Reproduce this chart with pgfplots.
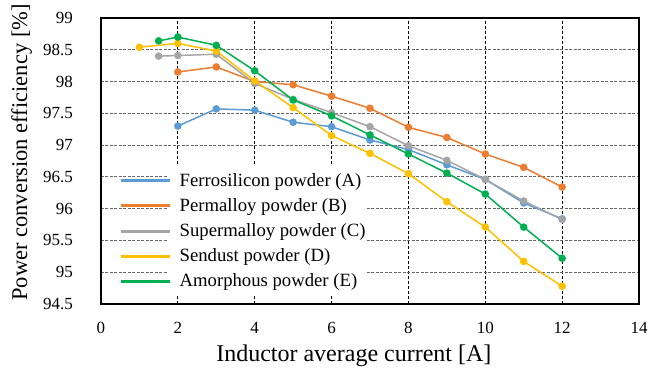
\documentclass[border=0pt]{standalone}
\usepackage{fontspec}
\setmainfont{Liberation Serif}
\usepackage{pgfplots}
\pgfplotsset{compat=1.18}
\definecolor{cA}{HTML}{5B9BD5}
\definecolor{cB}{HTML}{ED7D31}
\definecolor{cC}{HTML}{A5A5A5}
\definecolor{cD}{HTML}{FFC000}
\definecolor{cE}{HTML}{00B050}
\begin{document}
\begin{tikzpicture}
\useasboundingbox (-101bp,-75bp) rectangle (548bp,304bp);
\begin{axis}[
  at={(0,0)}, anchor=south west,
  scale only axis, width=538bp, height=286bp,
  xmin=0, xmax=14, ymin=94.5, ymax=99,
  xtick={0,2,4,6,8,10,12,14},
  ytick={94.5,95,95.5,96,96.5,97,97.5,98,98.5,99},
  major tick length=0pt,
  axis line style={line width=1.5bp, black},
  grid=major,
  x grid style={black, dash pattern=on 3bp off 2bp, line width=1bp},
  y grid style={black!60, dash pattern=on 3bp off 1.5bp, line width=1bp},
  /pgf/number format/assume math mode=true,
  ticklabel style={font=\fontsize{17bp}{20bp}\selectfont},
  yticklabel style={anchor=east, inner sep=0pt, xshift=-28bp},
  xticklabel style={anchor=north, inner sep=0pt, yshift=-18bp},
  xlabel={Inductor average current [A]},
  ylabel={Power conversion efficiency [\%]},
  xlabel style={font=\fontsize{24bp}{28bp}\selectfont, at={(axis description cs:0.47,0)}, yshift=-57bp, anchor=base},
  ylabel style={font=\fontsize{22.5bp}{26bp}\selectfont, at={(axis description cs:-0.1375,0.53)}, anchor=base, rotate=0},
  legend style={at={(axis cs:0.4675,96.643)}, anchor=north west, draw=none, fill=none,
    inner sep=0pt, row sep=0pt, column sep=8.5bp,
    font=\fontsize{18.7bp}{22bp}\selectfont,
    nodes={inner sep=0pt, text height=18bp, text depth=7.2bp}},
  legend cell align=left,
  legend image code/.code={\draw[#1, mark=none, line width=3bp] (0bp,0bp) -- (49bp,0bp);},
  every axis plot/.append style={line width=1.5bp, mark=*, mark size=3bp},
]
\fill[white] (axis cs:1.71,96.67) rectangle (axis cs:6.88,94.64);
\addplot[color=cA, mark options={fill=cA, draw=cA}] coordinates {
 (2,97.30) (3,97.57) (4,97.55) (5,97.36) (6,97.29) (7,97.08) (8,96.93) (9,96.69) (10,96.46) (11,96.09) (12,95.84)};
\addlegendentry{Ferrosilicon powder (A)}
\addplot[color=cB, mark options={fill=cB, draw=cB}] coordinates {
 (2,98.15) (3,98.23) (4,98.00) (5,97.95) (6,97.77) (7,97.58) (8,97.28) (9,97.12) (10,96.86) (11,96.65) (12,96.34)};
\addlegendentry{Permalloy powder (B)}
\addplot[color=cC, mark options={fill=cC, draw=cC}] coordinates {
 (1.5,98.40) (2,98.41) (3,98.43) (4,97.97) (5,97.72) (6,97.51) (7,97.29) (8,96.99) (9,96.76) (10,96.46) (11,96.12) (12,95.83)};
\addlegendentry{Supermalloy powder (C)}
\addplot[color=cD, mark options={fill=cD, draw=cD}] coordinates {
 (1,98.54) (2,98.60) (3,98.48) (4,98.01) (5,97.59) (6,97.15) (7,96.87) (8,96.55) (9,96.11) (10,95.71) (11,95.17) (12,94.78)};
\addlegendentry{Sendust powder (D)}
\addplot[color=cE, mark options={fill=cE, draw=cE}] coordinates {
 (1.5,98.64) (2,98.70) (3,98.57) (4,98.17) (5,97.71) (6,97.46) (7,97.16) (8,96.86) (9,96.56) (10,96.23) (11,95.71) (12,95.22)};
\addlegendentry{Amorphous powder (E)}
\end{axis}
\end{tikzpicture}
\end{document}
